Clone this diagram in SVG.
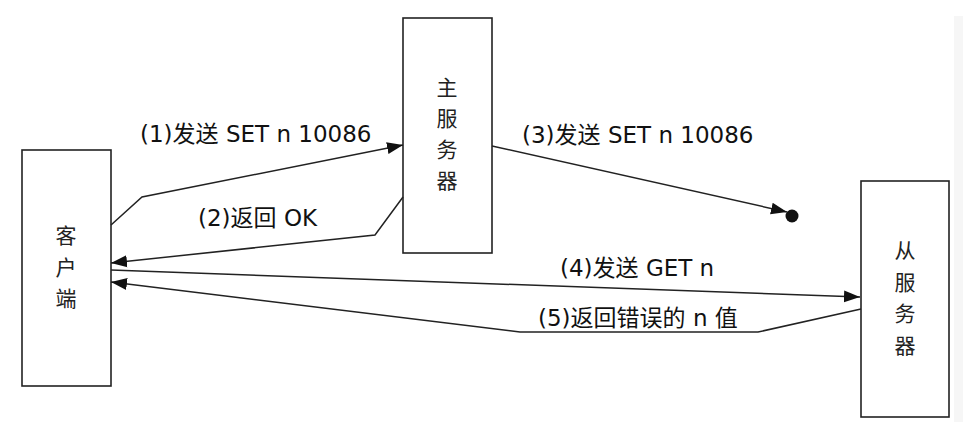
<svg xmlns="http://www.w3.org/2000/svg" width="977" height="431" viewBox="0 0 977 431">
  <style>
    .box { fill: #fff; stroke: #222; stroke-width: 1.6; }
    .node-text { font-family: "DejaVu Sans", "Noto Sans CJK SC", sans-serif; font-size: 21px; fill: #222; text-anchor: middle; }
    .label { font-family: "DejaVu Sans", "Noto Sans CJK SC", sans-serif; font-size: 23px; fill: #111; }
    .conn { fill: none; stroke: #222; stroke-width: 1.5; }
  </style>
  <defs>
    <marker id="arrow" markerUnits="userSpaceOnUse" markerWidth="18" markerHeight="14" refX="16" refY="7" orient="auto">
      <path d="M0,1 L16,7 L0,13 z" fill="#111"/>
    </marker>
  </defs>
  <rect x="0" y="0" width="977" height="431" fill="#fff"/>
  <rect x="954" y="16" width="9" height="406" fill="#f6f6f6"/>

  <g id="client">
    <rect class="box" x="22" y="150" width="89" height="236"/>
    <text class="node-text" x="66" y="243">客</text>
    <text class="node-text" x="66" y="274.5">户</text>
    <text class="node-text" x="66" y="306">端</text>
  </g>
  <g id="master">
    <rect class="box" x="403" y="18" width="89" height="235"/>
    <text class="node-text" x="447" y="95">主</text>
    <text class="node-text" x="447" y="126">服</text>
    <text class="node-text" x="447" y="157">务</text>
    <text class="node-text" x="447" y="188">器</text>
  </g>
  <g id="slave">
    <rect class="box" x="861" y="181" width="88" height="236"/>
    <text class="node-text" x="905" y="258">从</text>
    <text class="node-text" x="905" y="289.5">服</text>
    <text class="node-text" x="905" y="321">务</text>
    <text class="node-text" x="905" y="352.5">器</text>
  </g>

  <g id="connectors">
    <polyline class="conn" points="111,225 142,197 403,145" marker-end="url(#arrow)"/>
    <polyline class="conn" points="403,197 375,235 111,263" marker-end="url(#arrow)"/>
    <polyline class="conn" points="492,146 787,212" marker-end="url(#arrow)"/>
    <circle cx="792" cy="216" r="6.5" fill="#111"/>
    <polyline class="conn" points="111,270 860,297" marker-end="url(#arrow)"/>
    <polyline class="conn" points="861,309 758,332 520,332 111,282" marker-end="url(#arrow)"/>
  </g>

  <g id="labels">
    <text class="label" x="140" y="142">(1)发送 SET n 10086</text>
    <text class="label" x="198" y="226">(2)返回 OK</text>
    <text class="label" x="522" y="143">(3)发送 SET n 10086</text>
    <text class="label" x="560" y="276">(4)发送 GET n</text>
    <text class="label" x="538" y="326">(5)返回错误的 n 值</text>
  </g>
</svg>
